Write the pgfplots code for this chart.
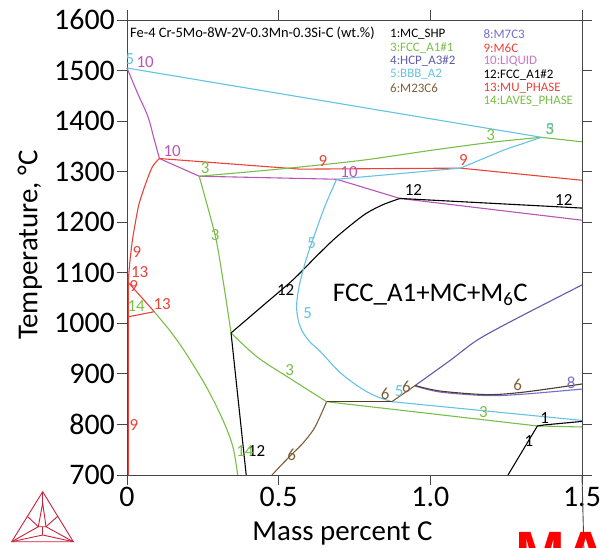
\documentclass[border=0pt]{standalone}
\usepackage{fontspec}
\setmainfont{Carlito}
\newfontfamily\wmfont{Liberation Sans}
\usepackage{pgfplots}
\pgfplotsset{compat=1.18}

\definecolor{frame}{RGB}{70,70,70}
\definecolor{cgreen}{RGB}{121,190,72}
\definecolor{ccyan}{RGB}{100,195,225}
\definecolor{cmag}{RGB}{185,85,185}
\definecolor{cred}{RGB}{235,65,55}
\definecolor{cpurp}{RGB}{95,90,170}
\definecolor{cbrown}{RGB}{125,95,55}
\definecolor{cdark}{RGB}{80,60,40}
\definecolor{cmsev}{RGB}{115,110,200}
\definecolor{logored}{RGB}{200,35,60}

\newcommand\lab[4]{\node[text=#1,font=\fontsize{17}{17}\selectfont,inner sep=0pt] at (axis cs:#2,#3) {#4};}
\newcommand\leg[4]{\node[text=#1,font=\fontsize{13}{13}\selectfont,anchor=west,inner sep=0pt] at (axis cs:#2,#3) {#4};}

\begin{document}
\begin{tikzpicture}
\begin{axis}[
  at={(0,0)}, anchor=south west,
  scale only axis, width=455bp, height=455bp,
  xmin=0, xmax=1.5, ymin=700, ymax=1600,
  xtick={0,0.5,1,1.5}, xticklabels={0,0.5,1.0,1.5},
  ytick={700,800,900,1000,1100,1200,1300,1400,1500,1600},
  yticklabels={700,800,900,1000,1100,1200,1300,1400,1500,1600},
  tick align=outside, major tick length=10bp,
  every tick/.style={frame, line width=0.9pt},
  axis line style={frame, line width=0.9pt},
  tick label style={font=\fontsize{30}{30}\selectfont, inner sep=2bp},
  xlabel={Mass percent C},
  ylabel={Temperature, °C},
  label style={font=\fontsize{29}{29}\selectfont},
  xlabel style={at={(axis description cs:0.4736,-0.145)}, anchor=base},
  ylabel style={at={(axis description cs:-0.1967,0.505)}, anchor=base},
  clip=false,
  every axis plot/.append style={line width=1.1bp, no markers},
]
% liquidus lines
\addplot[ccyan] coordinates {(0,1505) (1.366,1368)};
\addplot[cmag, smooth] coordinates {(0,1505) (0.035,1455) (0.069,1409) (0.090,1363) (0.107,1326)};
\addplot[cmag] coordinates {(0.107,1326) (0.238,1291) (0.691,1285) (0.9,1247) (1.5,1204)};
% M6C boundaries
\addplot[cred] coordinates {(0.107,1326) (0.57,1305) (1.099,1307) (1.5,1283)};
\addplot[cred, smooth] coordinates {(0.107,1326) (0.084,1310) (0.062,1277) (0.040,1237) (0.029,1204) (0.018,1165) (0.010,1125) (0.004,1083)};
\addplot[cred] coordinates {(0.004,1083) (0.004,700)};
% MU phase
\addplot[cred] coordinates {(0.004,1081) (0.090,1023)};
\addplot[cred] coordinates {(0.004,1013) (0.090,1023)};
% Laves phase
\addplot[cgreen, smooth] coordinates {(0.090,1023) (0.112,1007) (0.146,982) (0.194,941) (0.261,875) (0.316,809) (0.349,756) (0.365,700)};
% FCC_A1#1
\addplot[cgreen, smooth] coordinates {(0.238,1291) (0.5,1305) (0.768,1322) (1.0,1342) (1.2,1358) (1.366,1368)};
\addplot[cgreen] coordinates {(1.366,1368) (1.5,1359)};
\addplot[cgreen, smooth] coordinates {(0.238,1291) (0.267,1228) (0.294,1165) (0.318,1080) (0.343,981)};
\addplot[cgreen, smooth] coordinates {(0.343,981) (0.43,933) (0.54,890) (0.658,845)};
\addplot[cgreen] coordinates {(0.658,845) (1.353,797) (1.5,795)};
% FCC_A1#2
\addplot[black, smooth] coordinates {(0.343,981) (0.45,1036) (0.547,1086) (0.62,1130) (0.68,1165) (0.735,1193) (0.79,1218) (0.845,1235) (0.9,1247)};
\addplot[black] coordinates {(0.9,1247) (1.5,1228)};
\addplot[black] coordinates {(0.343,981) (0.393,700)};
% BCC
\addplot[ccyan, smooth] coordinates {(0.691,1285) (0.652,1231) (0.614,1168) (0.59,1125) (0.568,1075) (0.559,1035) (0.565,1005) (0.58,982) (0.605,962) (0.636,945) (0.702,903) (0.768,873) (0.82,856) (0.873,845)};
\addplot[ccyan] coordinates {(0.873,845) (1.5,808)};
\addplot[ccyan] coordinates {(0.691,1285) (1.099,1307) (1.243,1343) (1.366,1368)};
% M23C6
\addplot[cbrown, smooth] coordinates {(0.478,700) (0.514,723) (0.547,743) (0.580,763) (0.614,789) (0.636,815) (0.658,845)};
\addplot[cdark] coordinates {(0.658,845) (0.873,845)};
\addplot[cbrown] coordinates {(0.873,845) (0.950,877)};
% HCP_A3#2
\addplot[cpurp, smooth] coordinates {(0.950,877) (1.066,927) (1.155,967) (1.276,1007) (1.5,1076)};
% M7C3 and M23C6
\addplot[cmsev, smooth] coordinates {(0.950,876) (1.033,864) (1.188,857) (1.309,860) (1.5,870)};
\addplot[cdark, smooth] coordinates {(0.950,877) (1.033,866) (1.188,859) (1.309,864) (1.5,880)};
% MC_SHP
\addplot[black] coordinates {(1.256,700) (1.353,797) (1.375,799) (1.5,806)};

% line labels
\lab{ccyan}{0.010}{1523}{5}
\lab{cmag}{0.060}{1517}{10}
\lab{cmag}{0.149}{1341}{10}
\lab{cgreen}{0.258}{1307}{3}
\lab{cred}{0.646}{1321}{9}
\lab{cmag}{0.732}{1299}{10}
\lab{cred}{1.109}{1323}{9}
\lab{cgreen}{1.199}{1372}{3}
\lab{ccyan}{1.394}{1384}{5}
\lab{cgreen!70!ccyan}{1.394}{1384}{3}
\lab{black}{0.944}{1264}{12}
\lab{black}{1.44}{1244}{12}
\lab{cgreen}{0.291}{1175}{3}
\lab{ccyan}{0.609}{1159}{5}
\lab{ccyan}{0.596}{1020}{5}
\lab{black}{0.523}{1066}{12}
\lab{cred}{0.033}{1141}{9}
\lab{cred}{0.042}{1102}{13}
\lab{cred}{0.022}{1074}{9}
\lab{cgreen}{0.030}{1034}{14}
\lab{cred}{0.116}{1038}{13}
\lab{cgreen}{0.536}{908}{3}
\lab{cred}{0.023}{799}{9}
\lab{black}{0.427}{747}{12}
\lab{cgreen}{0.389}{747}{14}
\lab{cbrown}{0.543}{740}{6}
\lab{cbrown}{0.851}{860}{6}
\lab{ccyan}{0.897}{866}{5}
\lab{cbrown}{0.921}{874}{6}
\lab{cbrown}{1.288}{878}{6}
\lab{cmsev}{1.464}{882}{8}
\lab{cgreen}{1.175}{825}{3}
\lab{black}{1.377}{813}{1}
\lab{black}{1.325}{767}{1}

% region label
\node[font=\fontsize{27}{27}\selectfont, inner sep=0pt] at (axis cs:1.0,1056) {FCC\_A1+MC+M$_{\mathrm{6}}$C};

% title and phase key
\node[font=\fontsize{14.5}{14.5}\selectfont, anchor=west, inner sep=0pt] at (axis cs:0.010,1574) {Fe-4 Cr-5Mo-8W-2V-0.3Mn-0.3Si-C (wt.\%)};
\leg{black}{0.867}{1572}{1:MC\_SHP}
\leg{cgreen}{0.867}{1545}{3:FCC\_A1\#1}
\leg{cpurp}{0.867}{1519}{4:HCP\_A3\#2}
\leg{ccyan}{0.867}{1492}{5:BBB\_A2}
\leg{cbrown}{0.867}{1466}{6:M23C6}
\leg{cmsev}{1.175}{1572}{8:M7C3}
\leg{cred}{1.175}{1545}{9:M6C}
\leg{cmag!80!white}{1.175}{1519}{10:LIQUID}
\leg{black}{1.175}{1492}{12:FCC\_A1\#2}
\leg{cred}{1.175}{1466}{13:MU\_PHASE}
\leg{cgreen}{1.175}{1440}{14:LAVES\_PHASE}

% bottom axis line runs a little past the last tick
\draw[frame, line width=0.9pt] (rel axis cs:1,0) -- ++(9bp,0);
\end{axis}

% software logo
\begin{scope}[logored, line width=0.9bp, line join=miter]
\draw (-84.3bp,-16.7bp) -- (-115.3bp,-66.7bp) -- (-53.7bp,-66.7bp) -- cycle;
\draw (-84.3bp,-16.7bp) -- (-84.3bp,-28bp);
\draw (-84.3bp,-28bp) -- (-88.7bp,-51.7bp) -- (-81bp,-51.7bp) -- cycle;
\draw (-115.3bp,-66.7bp) -- (-88.7bp,-51.7bp);
\draw (-53.7bp,-66.7bp) -- (-81bp,-51.7bp);
\draw (-100bp,-41bp) -- (-88.7bp,-51.7bp);
\draw (-69bp,-41bp) -- (-81bp,-51.7bp);
\draw (-115.3bp,-66.7bp) -- (-84.3bp,-60bp) -- (-53.7bp,-66.7bp);
\draw (-84.3bp,-60bp) -- (-84.3bp,-51.7bp);
\end{scope}

% watermark running off the lower edge
\begin{scope}
\clip (-127bp,-73bp) rectangle (474bp,475bp);
\node[anchor=north west, inner sep=0pt, text={rgb,255:red,255;green,0;blue,0}, font=\wmfont\bfseries\fontsize{60}{60}\selectfont] at (388bp,-56.7bp) {MA};
\end{scope}

\pgfresetboundingbox
\useasboundingbox (-127bp,-73bp) rectangle (474bp,475bp);
\end{tikzpicture}
\end{document}
